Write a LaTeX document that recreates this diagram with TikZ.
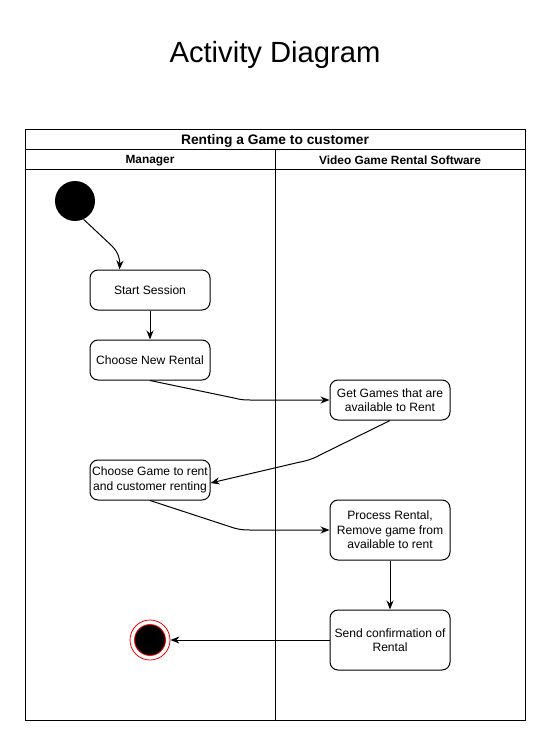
\documentclass[tikz,border=0pt]{standalone}
\usepackage{fontspec}
\setmainfont{Liberation Sans}
\usetikzlibrary{arrows.meta}
\begin{document}
\begin{tikzpicture}[x=1pt,y=-1pt,
  act/.style={draw,rounded corners=8pt,line width=1pt,minimum width=120pt,align=center,inner sep=2pt,font=\fontsize{12.1}{14.5}\selectfont},
  arr/.style={line width=1pt,-{Stealth[length=9pt,width=7pt]}},
  lane/.style={draw,line width=1pt},
  hdr/.style={font=\bfseries\fontsize{11.9}{13}\selectfont}]
\useasboundingbox (0,0) rectangle (551,746);
\node[font=\fontsize{29.2}{34}\selectfont] (title) at (275,55) {Activity Diagram};
% pool
\draw[lane] (25,130) rectangle (525,720);
\draw[lane] (25,150) -- (525,150);
\draw[lane] (25,170) -- (525,170);
\draw[lane] (275,150) -- (275,720);
\node[font=\bfseries\fontsize{13.8}{15}\selectfont] (pool) at (275,140.5) {Renting a Game to customer};
\node[hdr] (l1) at (150,160.5) {Manager};
\node[hdr] (l2) at (400,160.5) {Video Game Rental Software};
% nodes
\node[circle,fill=black,minimum size=40pt,inner sep=0pt] (s) at (75,201) {};
\node[act,minimum height=40pt] (ss) at (150,290) {Start Session};
\node[act,minimum height=40pt] (cnr) at (150,360) {Choose New Rental};
\node[act,minimum height=40pt] (gg) at (390,400) {Get Games that are\\available to Rent};
\node[act,minimum height=40pt] (cg) at (150,480) {Choose Game to rent\\and customer renting};
\node[act,minimum height=60pt] (pr) at (390,530) {Process Rental,\\Remove game from\\available to rent};
\node[act,minimum height=60pt] (sc) at (390,640) {Send confirmation of\\Rental};
\node[circle,draw=red,fill=white,line width=0.8pt,minimum size=40pt,inner sep=0pt] (e) at (150,640) {};
\node[circle,draw=red,fill=black,line width=0.8pt,minimum size=31pt,inner sep=0pt] (ei) at (150,640) {};
% connectors
\draw[arr] (s.-65) -- (112,246) .. controls (119,253) and (120,261) .. ([xshift=30pt]ss.north west);
\draw[arr] (ss.south) -- (cnr.north);
\draw[arr] (cnr.south) -- (234,398) .. controls (240,399.6) and (243,400) .. (250,400) -- (gg.west);
\draw[arr] (gg.south) -- (320,455) .. controls (313,459) and (306,461) .. (298,462.5) -- ([yshift=-3pt]cg.east);
\draw[arr] (cg.south) -- (234,528) .. controls (240,529.6) and (243,530) .. (250,530) -- (pr.west);
\draw[arr] (pr.south) -- (sc.north);
\draw[arr] (sc.west) -- (e.east);
\end{tikzpicture}
\end{document}
